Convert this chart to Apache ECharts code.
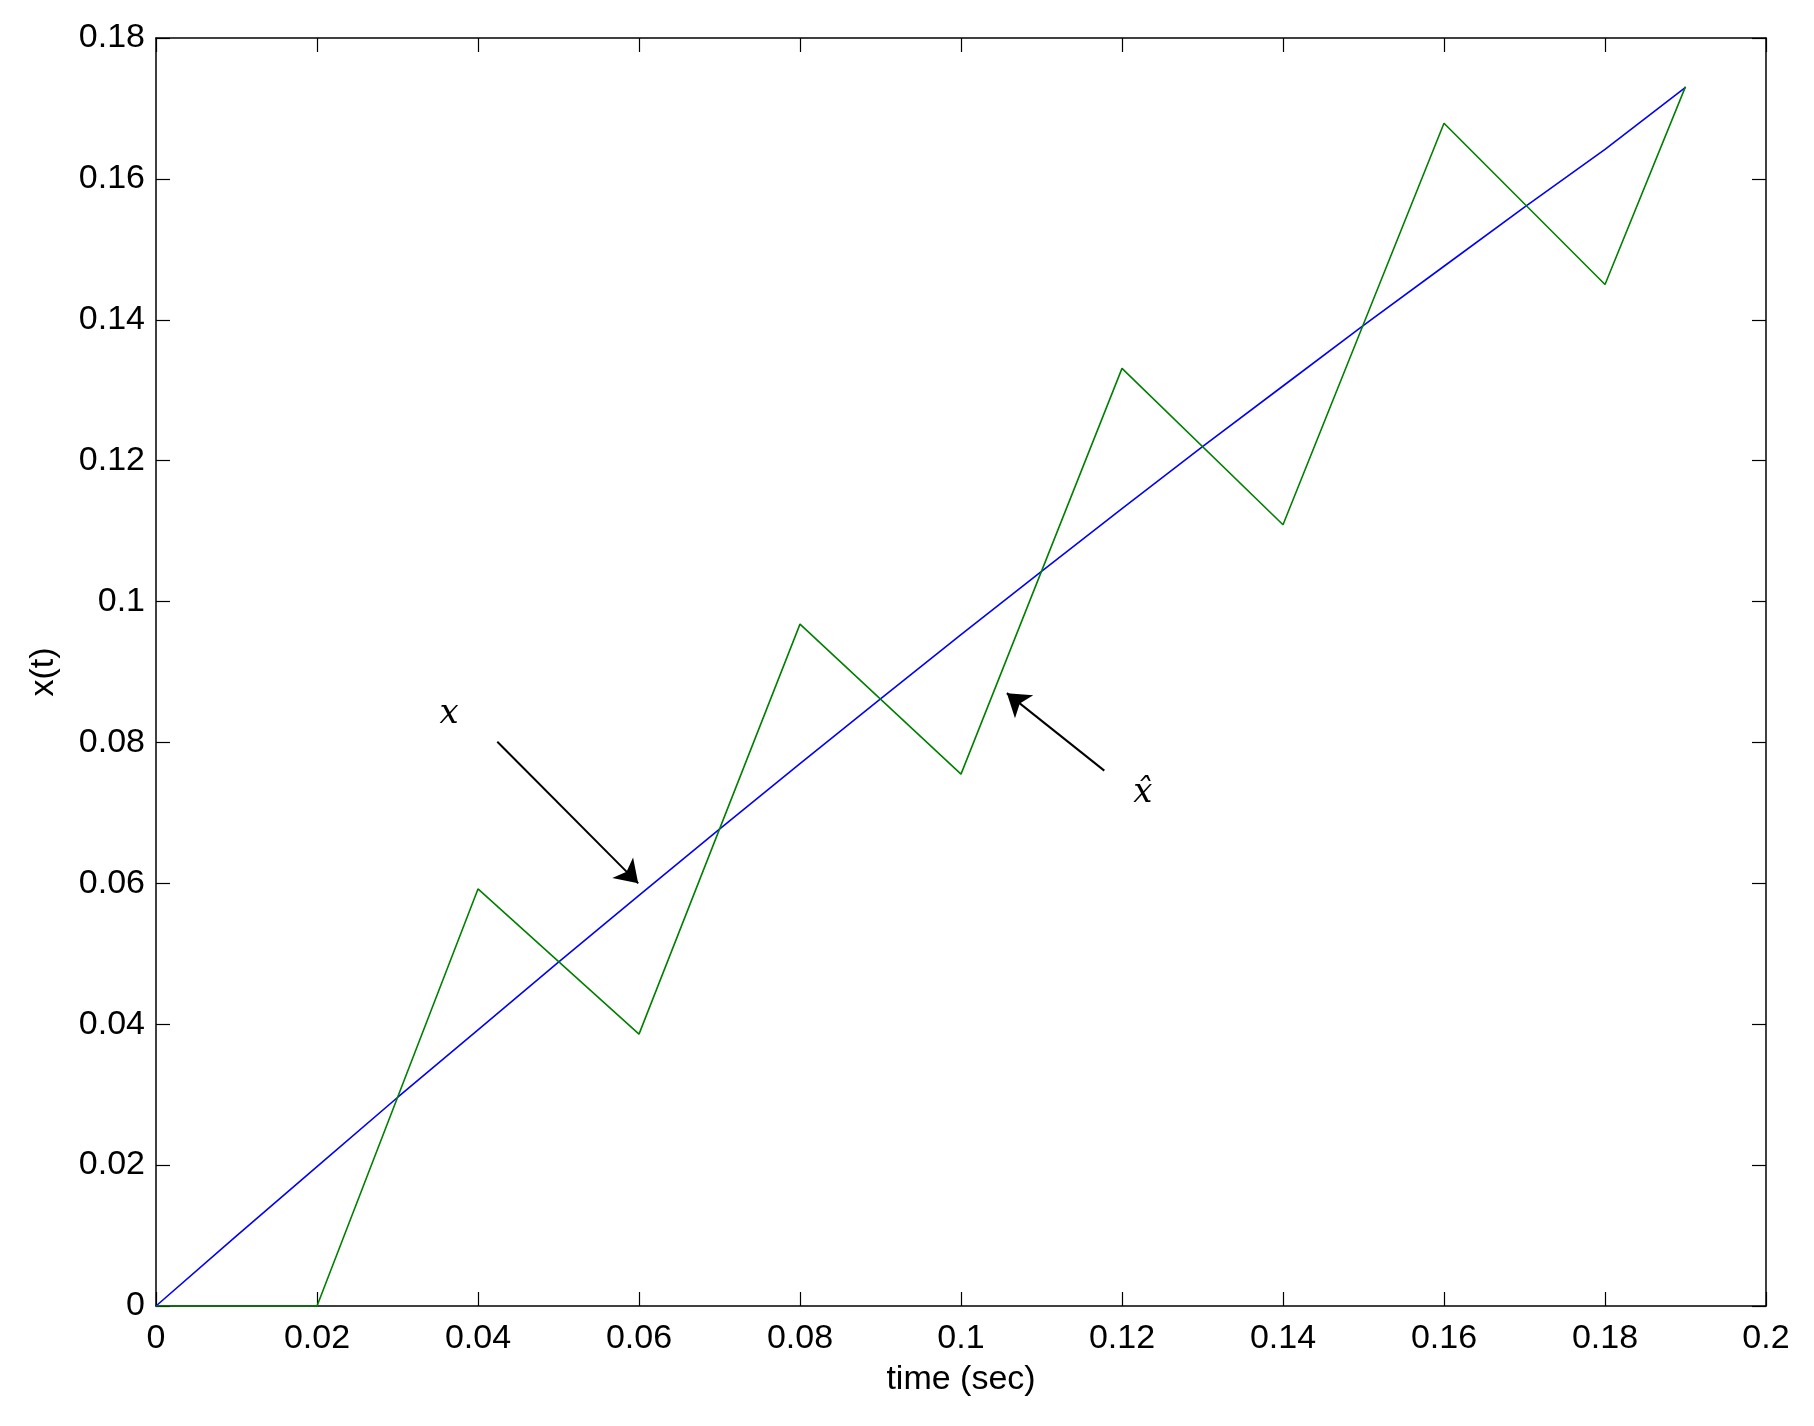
<!DOCTYPE html>
<html>
<head>
<meta charset="UTF-8">
<title>x(t)</title>
<script src="https://cdn.jsdelivr.net/npm/echarts@6/dist/echarts.min.js"></script>
<style>
  html, body { margin: 0; padding: 0; background: #fff; }
  #container { width: 1814px; height: 1426px; }
</style>
</head>
<body>
<div id="container"></div>
<script>
// x(t): smooth, slightly bending ramp (every 0.01 s)
var xTime = [0, 0.01, 0.02, 0.03, 0.04, 0.05, 0.06, 0.07, 0.08, 0.09,
             0.1, 0.11, 0.12, 0.13, 0.14, 0.15, 0.16, 0.17, 0.18, 0.19];
var xValue = [0, 0.00995, 0.0198, 0.0296, 0.0392, 0.0488, 0.0583, 0.0677, 0.0770, 0.0862,
              0.0953, 0.1043, 0.1132, 0.1220, 0.1306, 0.1392, 0.1476, 0.1560, 0.1642, 0.1730];
// x-hat: zigzag estimate
var xhatTime = [0, 0.02, 0.04, 0.06, 0.08, 0.1, 0.12, 0.14, 0.16, 0.18, 0.19];
var xhatValue = [0, 0, 0.0592, 0.0386, 0.0968, 0.0755, 0.1331, 0.1109, 0.1679, 0.1450, 0.1731];
// annotation arrows [from, to] in data units, and their labels
var arrowX = [[0.0424, 0.0801], [0.0599, 0.0600]];
var arrowXhat = [[0.1178, 0.0760], [0.1057, 0.0870]];
var labelX = [0.0364, 0.0840];
var labelXhat = [0.1226, 0.0728];

function pairs(a, b) {
    var out = [];
    for (var i = 0; i < a.length; i++) out.push([a[i], b[i]]);
    return out;
}

var font = 'Liberation Sans, Arial, sans-serif';
var boxLine = { show: true, onZero: false, lineStyle: { color: '#000', width: 1.5 } };
var inTick = { show: true, inside: true, length: 14, lineStyle: { color: '#000', width: 1.2 } };
var tickFont = { fontFamily: font, fontSize: 34, color: '#000' };

var mychart = echarts.init(document.getElementById('container'));
var option = {
    animation: false,
    backgroundColor: '#fff',
    grid: { left: 156, right: 48, top: 38, bottom: 120 },
    xAxis: [{
        type: 'value', min: 0, max: 0.2, interval: 0.02,
        position: 'bottom',
        name: 'time (sec)', nameLocation: 'middle', nameGap: 57,
        nameTextStyle: tickFont,
        axisLine: boxLine, axisTick: inTick,
        axisLabel: { fontFamily: font, fontSize: 34, color: '#000', margin: 16 },
        splitLine: { show: false }
    }, {
        type: 'value', min: 0, max: 0.2, interval: 0.02,
        position: 'top',
        axisLine: boxLine, axisTick: inTick,
        axisLabel: { show: false }, splitLine: { show: false }
    }],
    yAxis: [{
        type: 'value', min: 0, max: 0.18, interval: 0.02,
        position: 'left',
        name: 'x(t)', nameLocation: 'middle', nameGap: 95,
        nameTextStyle: tickFont,
        axisLine: boxLine, axisTick: inTick,
        axisLabel: { fontFamily: font, fontSize: 34, color: '#000', margin: 11 },
        splitLine: { show: false }
    }, {
        type: 'value', min: 0, max: 0.18, interval: 0.02,
        position: 'right',
        axisLine: boxLine, axisTick: inTick,
        axisLabel: { show: false }, splitLine: { show: false }
    }],
    series: [{
        name: 'x', type: 'line',
        data: pairs(xTime, xValue),
        showSymbol: false,
        lineStyle: { color: '#0000ff', width: 1.6 },
        markLine: {
            silent: true,
            symbol: ['none', 'arrow'],
            symbolSize: 22,
            lineStyle: { color: '#000', width: 2, type: 'solid' },
            label: { show: false },
            data: [
                [{ coord: arrowX[0] }, { coord: arrowX[1] }],
                [{ coord: arrowXhat[0] }, { coord: arrowXhat[1] }]
            ]
        },
        markPoint: {
            silent: true,
            symbol: 'circle', symbolSize: 0,
            label: {
                show: true, position: 'inside',
                fontFamily: 'DejaVu Serif, Liberation Serif, serif',
                fontStyle: 'italic', fontSize: 34, color: '#000',
                formatter: function (p) { return p.name; }
            },
            data: [
                { name: 'x', coord: labelX },
                { name: 'x\u0302', coord: labelXhat }
            ]
        }
    }, {
        name: 'xhat', type: 'line',
        data: pairs(xhatTime, xhatValue),
        showSymbol: false,
        lineStyle: { color: '#008000', width: 1.6 }
    }]
};
mychart.setOption(option);
</script>
</body>
</html>
